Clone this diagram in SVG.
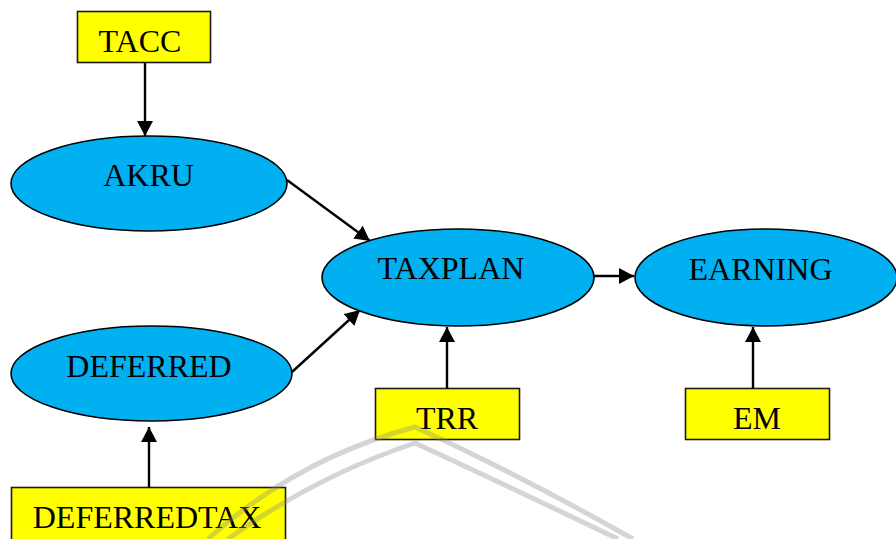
<svg xmlns="http://www.w3.org/2000/svg" width="896" height="539" viewBox="0 0 896 539">
  <style>
    .oval { fill: #00B0F0; stroke: #000; stroke-width: 1.6; }
    .box { fill: #FFFF00; stroke: #1a1a1a; stroke-width: 1.6; }
    .lbl { font-family: "Liberation Serif", "Times New Roman", serif; font-size: 32px; fill: #000; text-anchor: middle; }
    .edge { stroke: #000; stroke-width: 2.4; fill: none; marker-end: url(#head); }
    .mark { fill: none; stroke: #888; stroke-width: 5; stroke-opacity: 0.35; }
  </style>
  <defs>
    <marker id="head" markerUnits="userSpaceOnUse" markerWidth="15" markerHeight="16" refX="15" refY="8" orient="auto">
      <path d="M0,0 L15,8 L0,16 Z" fill="#000"/>
    </marker>
  </defs>
  <rect width="896" height="539" fill="#fff"/>

  <g id="connectors">
    <line class="edge" x1="145" y1="63" x2="145" y2="136"/>
    <line class="edge" x1="287" y1="180" x2="370" y2="241"/>
    <line class="edge" x1="292" y1="372" x2="360" y2="310"/>
    <line class="edge" x1="593" y1="276" x2="634" y2="276"/>
    <line class="edge" x1="447" y1="388" x2="447" y2="327"/>
    <line class="edge" x1="753" y1="388" x2="753" y2="327"/>
    <line class="edge" x1="149" y1="487" x2="149" y2="427"/>
  </g>

  <g id="tacc">
    <rect class="box" x="77.5" y="11.5" width="133" height="51"/>
    <text class="lbl" x="140" y="52">TACC</text>
  </g>
  <g id="akru">
    <ellipse class="oval" cx="149" cy="183.5" rx="138" ry="47.5"/>
    <text class="lbl" x="148.5" y="186">AKRU</text>
  </g>
  <g id="taxplan">
    <ellipse class="oval" cx="458" cy="277.5" rx="136" ry="48.5"/>
    <text class="lbl" x="451" y="279">TAXPLAN</text>
  </g>
  <g id="earning">
    <ellipse class="oval" cx="766" cy="277.5" rx="131" ry="48.5"/>
    <text class="lbl" x="760.5" y="280">EARNING</text>
  </g>
  <g id="deferred">
    <ellipse class="oval" cx="151.5" cy="373.5" rx="140.5" ry="47.5"/>
    <text class="lbl" x="149" y="377">DEFERRED</text>
  </g>
  <g id="trr">
    <rect class="box" x="375.5" y="388.5" width="144" height="51"/>
    <text class="lbl" x="447" y="429">TRR</text>
  </g>
  <g id="em">
    <rect class="box" x="685.5" y="388.5" width="144" height="51"/>
    <text class="lbl" x="757" y="429">EM</text>
  </g>
  <g id="deferredtax">
    <rect class="box" x="11.5" y="487.5" width="274" height="60"/>
    <text class="lbl" x="147" y="528">DEFERREDTAX</text>
  </g>

  <!-- faint background arch lines -->
  <g id="backdrop-arch">
    <path class="mark" d="M208,539 Q298,458 415,427 Q520,475 633,539"/>
    <path class="mark" d="M228,539 Q316,476 415,443 Q510,487 618,539"/>
  </g>
</svg>
